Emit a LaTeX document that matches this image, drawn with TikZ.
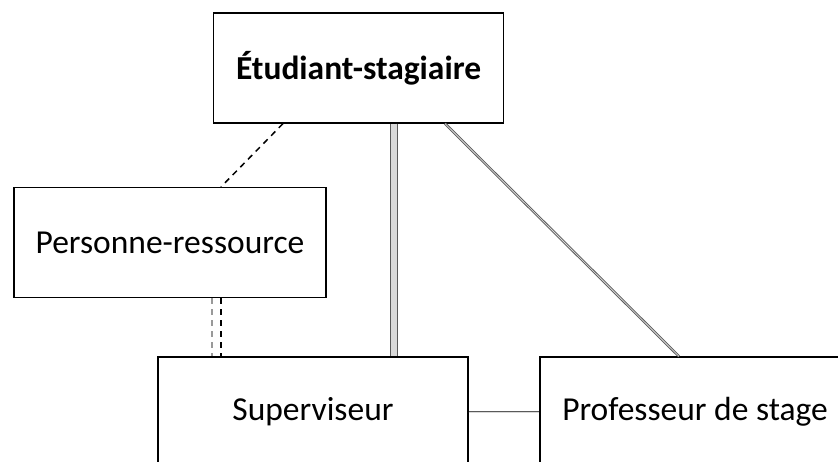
\documentclass[tikz,border=0pt]{standalone}
\usepackage{fontspec}
\setmainfont{Carlito}
\begin{document}
\begin{tikzpicture}[x=1pt, y=-1pt,
    role/.style={draw, line width=1.2pt, inner sep=0pt, minimum height=110pt, font=\fontsize{33.5}{40}\selectfont},
    lien/.style={draw=black!65, line width=1pt, double=black!15},
    pointille/.style={line width=1.5pt, dash pattern=on 6pt off 5pt}]
            \clip (0,0) rectangle (838,462);
            \node[role, minimum width=290pt, font=\fontsize{33.5}{40}\selectfont\bfseries] (etu) at (358.5,68) {Étudiant-stagiaire};
            \node[role, minimum width=312pt] (pers) at (170,242.5) {Personne-ressource};
            \node[role, minimum width=310pt] (sup) at (313,412) {Superviseur};
            \node[role, minimum width=310pt] (prof) at (695,412) {Professeur de stage};

            \draw[pointille] ([xshift=-75.5pt]etu.south) -- ([xshift=51pt]pers.north);
            \draw[pointille, black!40] ([xshift=42pt]pers.south) -- ([xshift=42pt]pers.south |- sup.north);
            \draw[pointille] ([xshift=51pt]pers.south) -- ([xshift=51pt]pers.south |- sup.north);
            \draw[lien, line width=1.5pt, double distance=5.5pt] ([xshift=35.5pt]etu.south) -- ([xshift=35.5pt]etu.south |- sup.north);
            \draw[lien, line width=0.9pt, double distance=0.8pt] ([xshift=86.5pt]etu.south) -- ([xshift=-16pt]prof.north);
            \draw[lien, line width=0.9pt, double distance=0.8pt] (sup.east) -- (prof.west);
        \end{tikzpicture}
\end{document}
